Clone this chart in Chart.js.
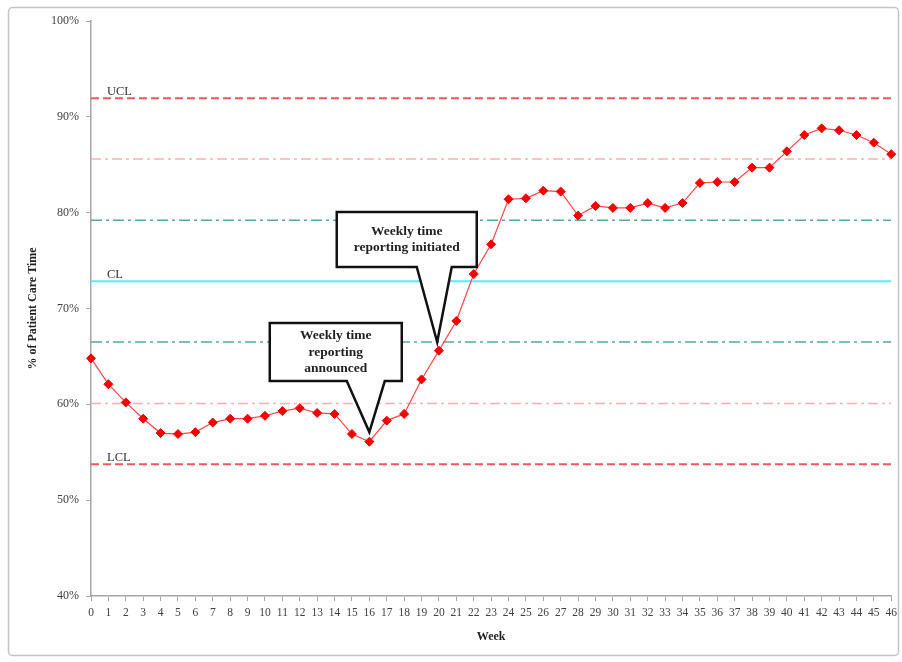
<!DOCTYPE html>
<html>
<head>
<meta charset="utf-8">
<script src="https://cdn.jsdelivr.net/npm/chart.js@4.4.0/dist/chart.umd.min.js"></script>
<style>
html,body{margin:0;padding:0;background:#fff;}
#wrap{width:902px;height:662px;position:relative;}
</style>
</head>
<body>
<div id="wrap"><canvas id="c" width="902" height="662"></canvas></div>
<script>
// ---- Data ----
const weeks = [0,1,2,3,4,5,6,7,8,9,10,11,12,13,14,15,16,17,18,19,20,21,22,23,24,25,26,27,28,29,30,31,32,33,34,35,36,37,38,39,40,41,42,43,44,45,46];
const patientCarePct = [64.8,62.1,60.2,58.5,57.0,56.9,57.1,58.1,58.5,58.5,58.8,59.3,59.6,59.1,59.0,56.9,56.1,58.3,59.0,62.6,65.6,68.7,73.6,76.7,81.4,81.5,82.3,82.2,79.7,80.7,80.5,80.5,81.0,80.5,81.0,83.1,83.2,83.2,84.7,84.7,86.4,88.1,88.8,88.6,88.1,87.3,86.1];
const limitNames  = ['UCL','+2σ','+1σ','CL','-1σ','-2σ','LCL'];
const limitValues = [91.95, 85.6, 79.2, 72.85, 66.5, 60.1, 53.75];
const limitLabelNames  = ['UCL','CL','LCL'];
const limitLabelValues = [91.95, 72.85, 53.75];
const yTickValues = [40,50,60,70,80,90,100];
const calloutTexts = [['Weekly time','reporting','announced'], ['Weekly time','reporting initiated']];
const calloutTipWeeks  = [16, 19.9];
const calloutTipValues = [57.1, 66.5];
const calloutBoxWeeks  = [14.07, 18.15];
const calloutBoxValues = [65.45, 77.2];

// ---- Styles ----
const limitStyles = [
  {color:'rgba(238,80,80,0.95)', width:2, dash:[8,4]},
  {color:'rgba(245,170,170,0.9)', width:1.5, dash:[10,4,3,4]},
  {color:'rgba(70,155,155,0.9)', width:1.5, dash:[11,4,3,4]},
  {color:'rgba(90,235,240,1)', width:2, dash:[]},
  {color:'rgba(70,155,155,0.9)', width:1.5, dash:[11,4,3,4]},
  {color:'rgba(245,170,170,0.9)', width:1.5, dash:[10,4,3,4]},
  {color:'rgba(238,80,80,0.95)', width:2, dash:[8,4]}
];
const calloutBoxes = [
  {w:132, h:58, baseL:11, baseR:49},
  {w:140, h:55, baseL:10, baseR:45}
];

const serif = '"Liberation Serif", "DejaVu Serif", serif';

const datasets = [{
  label:'% of Patient Care Time',
  data: weeks.map((w,i)=>({x:w, y:patientCarePct[i]})),
  borderColor:'rgb(255,70,70)',
  borderWidth:1.2,
  pointStyle:'rectRot',
  pointRadius:4.5,
  pointBackgroundColor:'rgb(245,0,0)',
  pointBorderColor:'rgb(245,0,0)',
  pointBorderWidth:1,
  tension:0,
  clip:false
}];
limitValues.forEach((v,i)=>{
  datasets.push({
    label: limitNames[i],
    data: [{x:weeks[0], y:v},{x:weeks[weeks.length-1], y:v}],
    borderColor: limitStyles[i].color,
    borderWidth: limitStyles[i].width,
    borderDash: limitStyles[i].dash,
    pointRadius:0,
    tension:0
  });
});

const framePlugin = {
  id:'frame',
  beforeDraw(chart){
    const ctx = chart.ctx;
    ctx.save();
    ctx.fillStyle='#fff';
    ctx.fillRect(0,0,chart.width,chart.height);
    ctx.strokeStyle='#c4c4c4';
    ctx.lineWidth=1.5;
    ctx.beginPath();
    if (ctx.roundRect) ctx.roundRect(8.5,7.5,890,648,4); else ctx.rect(8.5,7.5,890,648);
    ctx.stroke();
    ctx.restore();
  }
};

const limitLabelPlugin = {
  id:'limitLabels',
  afterDatasetsDraw(chart){
    const {ctx, chartArea, scales} = chart;
    ctx.save();
    ctx.font = '12.5px ' + serif;
    ctx.fillStyle = '#333';
    ctx.textAlign = 'left';
    ctx.textBaseline = 'alphabetic';
    limitLabelNames.forEach((t,i)=>{
      ctx.fillText(t, chartArea.left + 16, scales.y.getPixelForValue(limitLabelValues[i]) - 3);
    });
    ctx.restore();
  }
};

const calloutPlugin = {
  id:'callouts',
  afterDatasetsDraw(chart){
    const {ctx, scales} = chart;
    calloutTexts.forEach((lines,i)=>{
      const b = calloutBoxes[i];
      const cx = scales.x.getPixelForValue(calloutBoxWeeks[i]);
      const cy = scales.y.getPixelForValue(calloutBoxValues[i]);
      const tx = scales.x.getPixelForValue(calloutTipWeeks[i]);
      const ty = scales.y.getPixelForValue(calloutTipValues[i]);
      const l = cx - b.w/2, r = cx + b.w/2, t = cy - b.h/2, btm = cy + b.h/2;
      ctx.save();
      ctx.beginPath();
      ctx.moveTo(l,t);
      ctx.lineTo(r,t);
      ctx.lineTo(r,btm);
      ctx.lineTo(cx + b.baseR, btm);
      ctx.lineTo(tx, ty);
      ctx.lineTo(cx + b.baseL, btm);
      ctx.lineTo(l, btm);
      ctx.closePath();
      ctx.fillStyle = '#fff';
      ctx.fill();
      ctx.lineWidth = 2.5;
      ctx.lineJoin = 'miter';
      ctx.strokeStyle = '#111';
      ctx.stroke();
      ctx.font = 'bold 13.5px ' + serif;
      ctx.fillStyle = '#222';
      ctx.textAlign = 'center';
      ctx.textBaseline = 'middle';
      const lh = 16.5;
      const start = cy - (lines.length-1)*lh/2;
      lines.forEach((s,j)=> ctx.fillText(s, cx, start + j*lh));
      ctx.restore();
    });
  }
};

new Chart(document.getElementById('c'), {
  type:'line',
  data:{datasets},
  options:{
    responsive:false,
    animation:false,
    devicePixelRatio:1,
    layout:{padding:{left:22, right:10, top:21, bottom:14}},
    plugins:{legend:{display:false}, tooltip:{enabled:false}},
    scales:{
      x:{
        type:'linear',
        min:weeks[0], max:weeks[weeks.length-1],
        afterFit(scale){ scale.height = 52; },
        grid:{drawOnChartArea:false, drawTicks:true, tickLength:5, color:'#a6a6a6', lineWidth:1},
        border:{color:'#a6a6a6', width:1.5},
        ticks:{stepSize:1, autoSkip:false, maxRotation:0, maxTicksLimit:100, padding:5,
               color:'#404040', font:{family:serif, size:11.5}},
        title:{display:true, text:'Week', color:'#222', font:{family:serif, size:12, weight:'bold'}, padding:{top:4,bottom:4}}
      },
      y:{
        min:40, max:100,
        afterFit(scale){ scale.width = 69; },
        afterBuildTicks(scale){ scale.ticks = yTickValues.map(v=>({value:v})); },
        grid:{drawOnChartArea:false, drawTicks:true, tickLength:5, color:'#a6a6a6', lineWidth:1},
        border:{color:'#a6a6a6', width:1.5},
        ticks:{padding:7, color:'#404040', font:{family:serif, size:12}, callback:(v)=>v+'%'},
        title:{display:true, text:'% of Patient Care Time', color:'#222', font:{family:serif, size:12, weight:'bold'}, padding:{top:4,bottom:4}}
      }
    }
  },
  plugins:[framePlugin, limitLabelPlugin, calloutPlugin]
});
</script>
</body>
</html>
